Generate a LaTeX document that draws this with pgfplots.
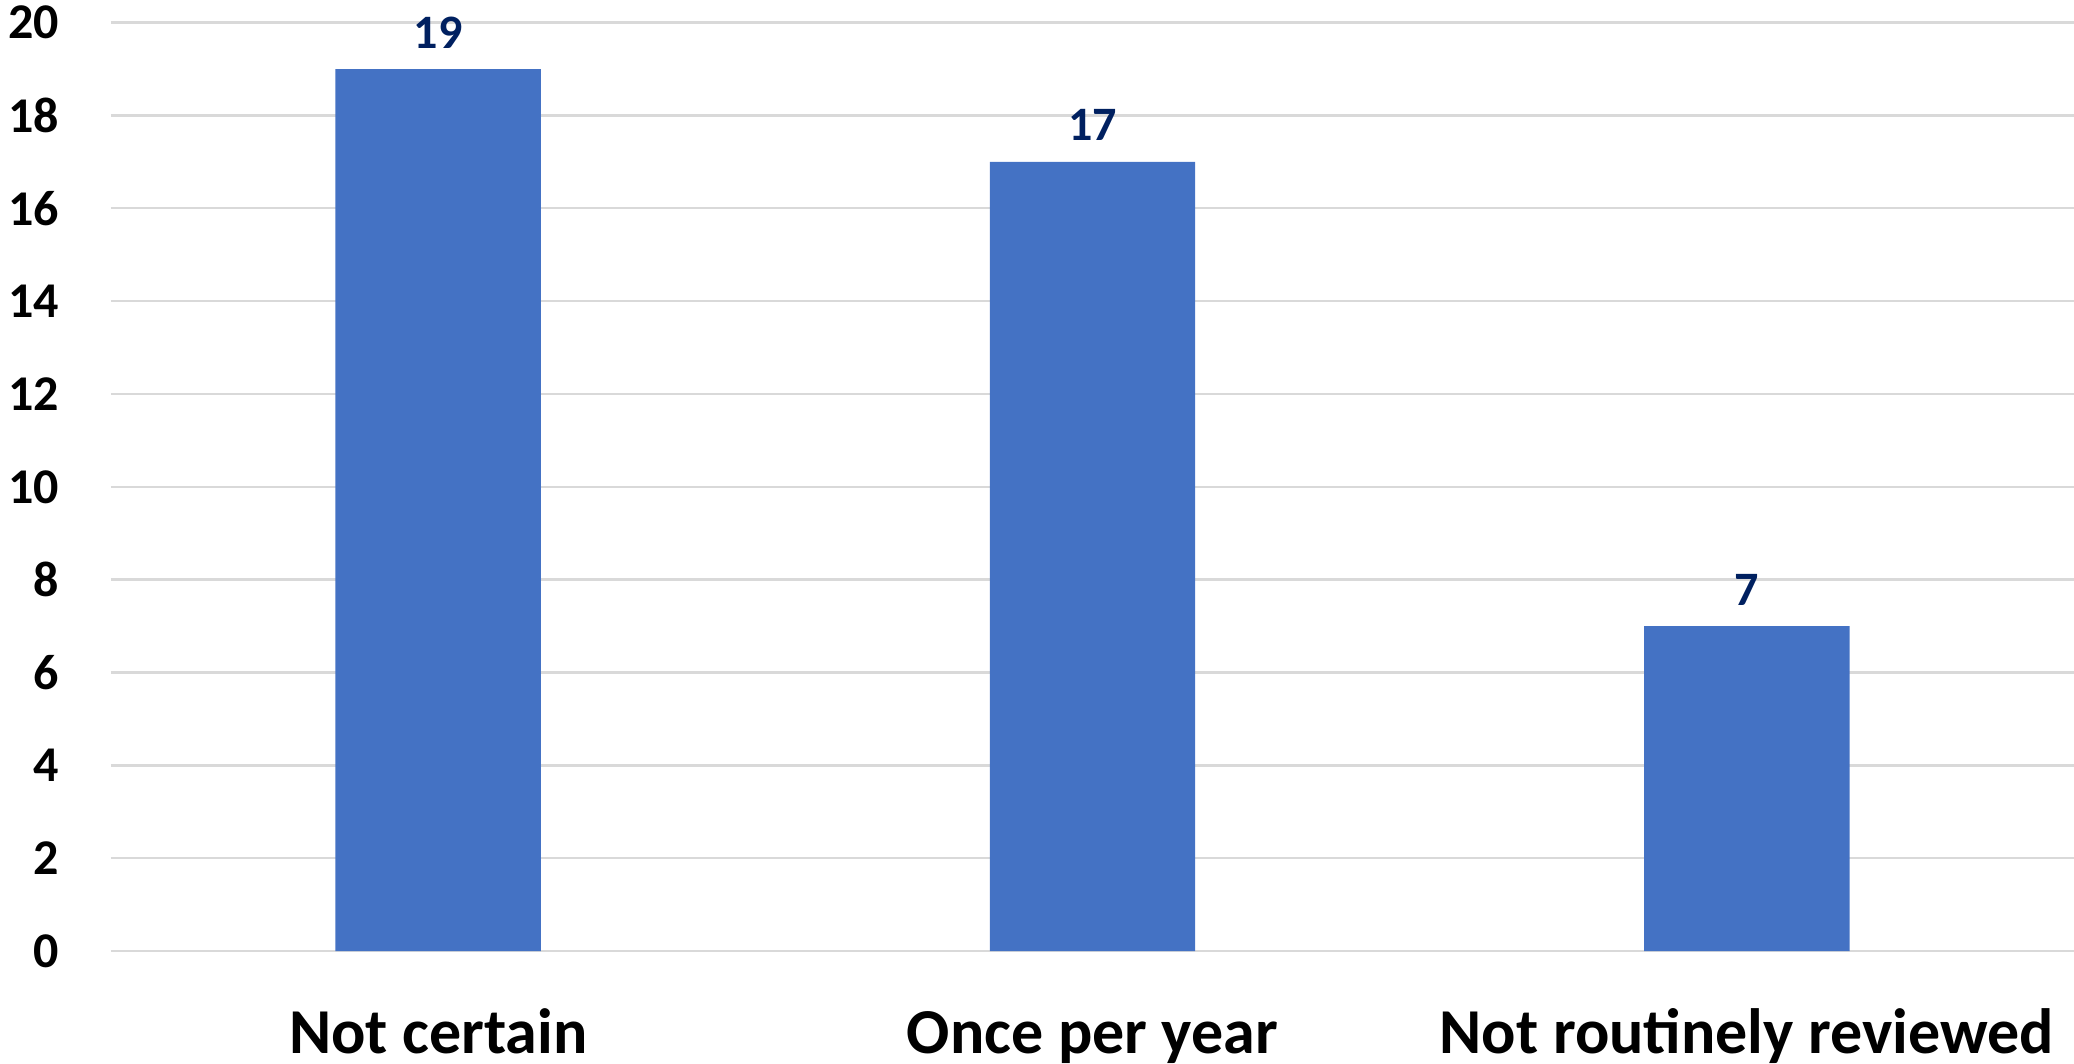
\documentclass[border=0pt]{standalone}
\usepackage{fontspec}
\setmainfont{Carlito}
\usepackage{pgfplots}
\pgfplotsset{compat=1.18}
\definecolor{barblue}{HTML}{4472C4}
\definecolor{lblnavy}{HTML}{002060}
\definecolor{gridgray}{HTML}{D9D9D9}
\begin{document}
\begin{tikzpicture}
\useasboundingbox (-27.75pt,-28pt) rectangle (490.75pt,237.75pt);
\begin{axis}[
  at={(0pt,0pt)}, anchor=south west,
  scale only axis, width=490.75pt, height=232.1pt,
  xmin=-0.5, xmax=2.5, ymin=0, ymax=20,
  ybar, bar width=0.314,
  ytick={0,2,...,20},
  xtick={0,1,2},
  xticklabels={Not certain, Once per year, Not routinely reviewed},
  axis line style={draw=none},
  major tick length=0pt,
  ymajorgrids, grid style={draw=gridgray, line width=0.6pt},
  /pgf/number format/assume math mode=true,
  y tick label style={font=\bfseries\fontsize{12.5}{15}\selectfont, anchor=east, inner sep=0pt, xshift=-12.75pt},
  x tick label style={font=\bfseries\fontsize{16}{19}\selectfont, anchor=base, inner sep=0pt, yshift=-25.5pt},
  nodes near coords,
  every node near coord/.append style={font=\bfseries\fontsize{12}{14}\selectfont, text=lblnavy, anchor=base, inner sep=0pt, yshift=5.25pt},
]
\addplot[fill=barblue, draw=none] coordinates {(0,19) (1,17) (2,7)};
\end{axis}
\end{tikzpicture}
\end{document}
